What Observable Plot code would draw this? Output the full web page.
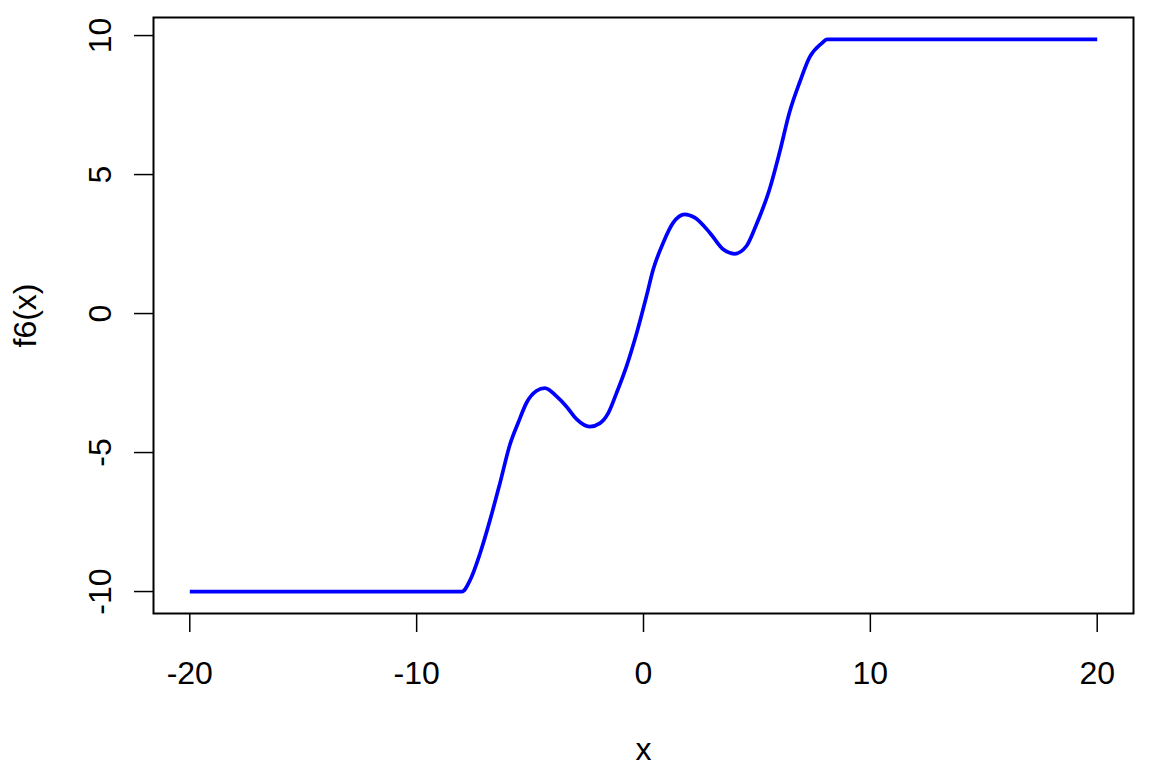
<!DOCTYPE html>
<html>
<head>
<meta charset="utf-8">
<script src="https://cdn.jsdelivr.net/npm/d3@7"></script>
<script src="https://cdn.jsdelivr.net/npm/@observablehq/plot@0.6"></script>
<style>
  html, body { margin: 0; padding: 0; background: #ffffff; }
</style>
</head>
<body>
<div id="chart"></div>
<script>
// Values
const xValues = [-20, -8, -7.65, -7.21, -6.77, -6.33, -5.89, -5.52, -5.15, -4.71, -4.35, -3.83, -3.39, -2.95, -2.37, -1.93, -1.56, -1.19, -0.75, -0.3, 0.13, 0.43, 0.87, 1.31, 1.82, 2.26, 2.92, 3.51, 4.02, 4.54, 4.95, 5.56, 6.0, 6.44, 6.89, 7.33, 7.84, 8.1, 20];
const yValues = [-10, -10, -9.6, -8.64, -7.44, -6.11, -4.72, -3.92, -3.2, -2.78, -2.68, -2.98, -3.35, -3.8, -4.07, -3.95, -3.59, -2.86, -1.9, -0.7, 0.62, 1.59, 2.55, 3.27, 3.57, 3.45, 2.91, 2.31, 2.15, 2.43, 3.15, 4.48, 5.8, 7.25, 8.33, 9.23, 9.71, 9.86, 9.86];
const xTicks = [-20, -10, 0, 10, 20];
const yTicks = [-10, -5, 0, 5, 10];
const xTitle = "x";
const yTitle = "f6(x)";

const points = xValues.map((x, i) => ({x, y: yValues[i]}));

const chart = Plot.plot({
  width: 1152,
  height: 768,
  marginLeft: 153,
  marginRight: 19,
  marginTop: 17,
  marginBottom: 155,
  style: {fontFamily: "Arial, 'Liberation Sans', sans-serif", fontSize: "32px", background: "white", color: "black"},
  x: {domain: [-21.6, 21.6]},
  y: {domain: [-10.79, 10.65]},
  marks: [
    Plot.frame({stroke: "black", strokeWidth: 2}),
    Plot.axisX({ticks: xTicks, tickSize: 19, strokeWidth: 1.5, tickFormat: () => "", label: null}),
    Plot.axisY({ticks: yTicks, tickSize: 19, strokeWidth: 1.5, tickFormat: () => "", label: null}),
    Plot.text(xTicks, {x: d => d, frameAnchor: "bottom", dy: 60, lineAnchor: "middle", text: d => String(d), fontSize: 32, fill: "black"}),
    Plot.text(yTicks, {y: d => d, frameAnchor: "left", dx: -53, rotate: -90, textAnchor: "middle", lineAnchor: "middle", text: d => String(d), fontSize: 32, fill: "black"}),
    Plot.text([xTitle], {frameAnchor: "bottom", dy: 136, lineAnchor: "middle", text: d => d, fontSize: 32, fill: "black"}),
    Plot.text([yTitle], {frameAnchor: "left", dx: -128, rotate: -90, textAnchor: "middle", lineAnchor: "middle", text: d => d, fontSize: 32, fill: "black"}),
    Plot.line(points, {x: "x", y: "y", curve: "monotone-x", stroke: "#0000ff", strokeWidth: 3.7, strokeLinejoin: "round", strokeLinecap: "butt"})
  ]
});
document.getElementById("chart").appendChild(chart);
</script>
</body>
</html>
